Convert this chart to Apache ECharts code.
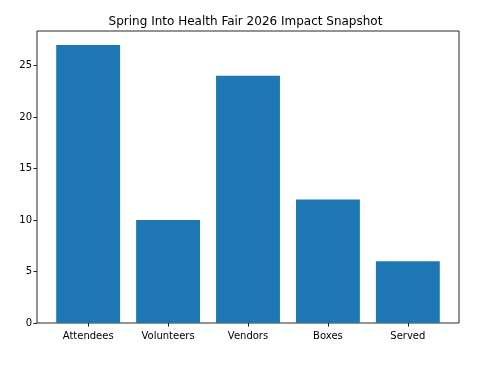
<!DOCTYPE html>
<html><head><meta charset="utf-8">
<script src="https://cdn.jsdelivr.net/npm/echarts@6/dist/echarts.min.js"></script>
<style>html,body{margin:0;padding:0;background:#fff}#c{width:491px;height:366px}</style>
</head><body><div id="c"></div>
<script>
const categories = ["Attendees", "Volunteers", "Vendors", "Boxes", "Served"];
const values = [27, 10, 24, 12, 6];
const yTicks = [0, 5, 10, 15, 20, 25];
const yMax = 28.35;

const chart = echarts.init(document.getElementById('c'), null, {renderer: 'canvas'});
const F = 'DejaVu Sans';
chart.setOption({
  animation: false,
  title: {
    text: 'Spring Into Health Fair 2026 Impact Snapshot',
    left: 'center', top: 11,
    textStyle: {fontFamily: F, fontSize: 12, fontWeight: 'normal', color: '#000'}
  },
  grid: [
    {left: 37, right: 32, top: 31, bottom: 43, show: true, borderColor: '#000', borderWidth: 0.85, backgroundColor: 'transparent'},
    {left: 48.2, right: 43.2, top: 31, bottom: 43}
  ],
  xAxis: [
    {gridIndex: 0, type: 'value', min: 0, max: 1, show: false},
    {gridIndex: 1, type: 'category', data: categories,
      axisLine: {show: false},
      axisTick: {show: true, alignWithLabel: true, length: 3.7, lineStyle: {color: '#000', width: 0.85}},
      axisLabel: {fontFamily: F, fontSize: 10, color: '#000', margin: 8}}
  ],
  yAxis: [
    {gridIndex: 0, type: 'value', min: 0, max: yMax, interval: 5,
      axisLine: {show: false},
      axisTick: {show: true, length: 3.7, lineStyle: {color: '#000', width: 0.85},
        customValues: yTicks},
      axisLabel: {fontFamily: F, fontSize: 10, color: '#000', margin: 5,
        customValues: yTicks,
        formatter: v => (yTicks.includes(v) ? String(v) : '')},
      splitLine: {show: false}},
    {gridIndex: 1, type: 'value', min: 0, max: yMax, show: false, splitLine: {show: false}}
  ],
  series: [{
    type: 'bar', xAxisIndex: 1, yAxisIndex: 1, data: values,
    barWidth: 63.9,
    itemStyle: {color: '#1f77b4'}
  }]
});
</script></body></html>
